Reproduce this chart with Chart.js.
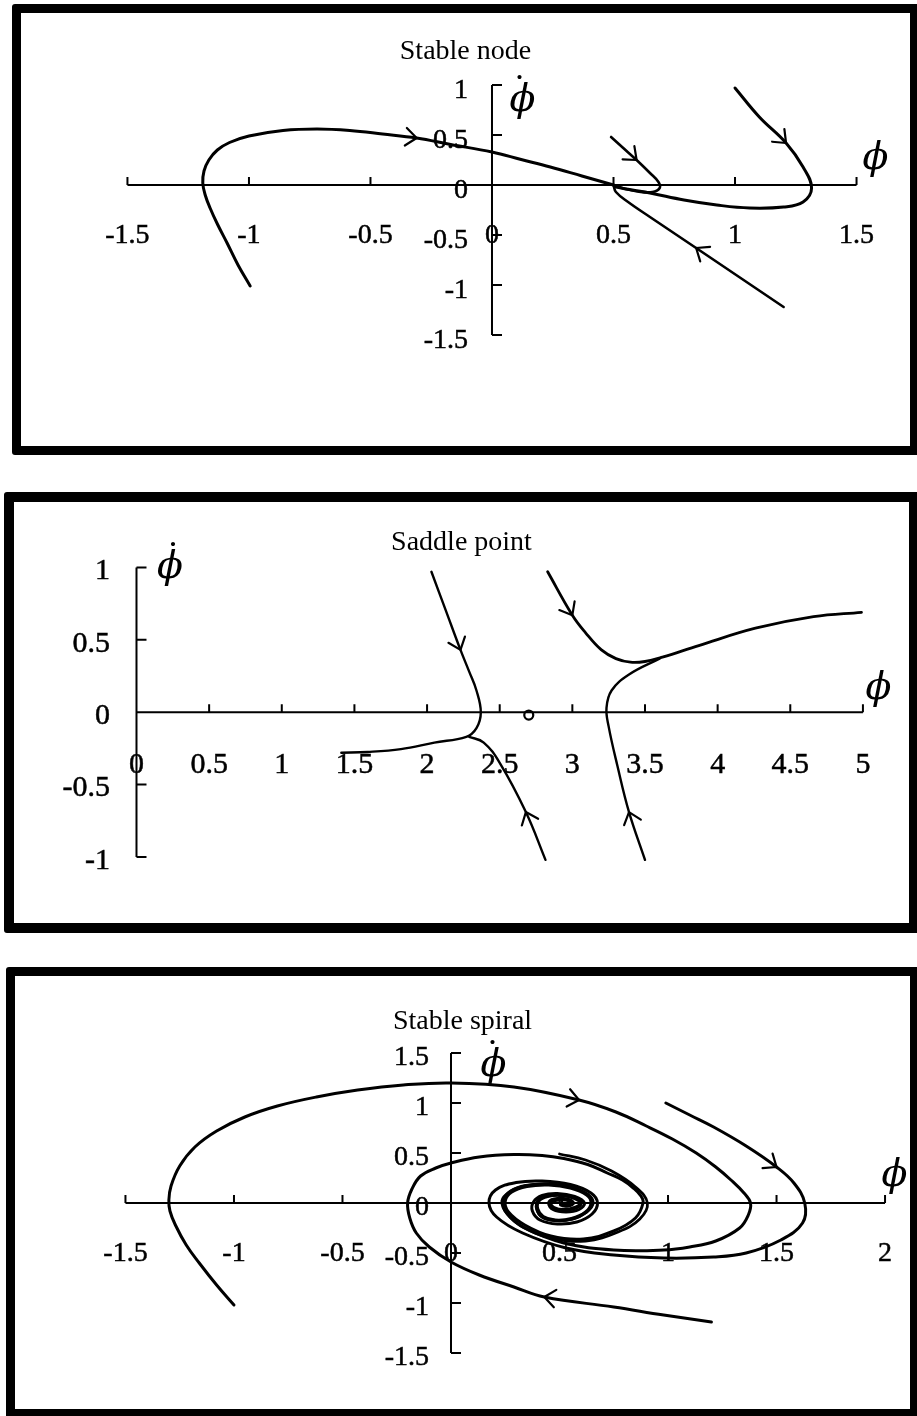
<!DOCTYPE html>
<html>
<head>
<meta charset="utf-8">
<title>Phase portraits</title>
<script src="https://cdn.jsdelivr.net/npm/chart.js@4.4.1/dist/chart.umd.min.js"></script>
<style>
  html, body { margin: 0; padding: 0; background: #fff; }
  body { position: relative; width: 917px; height: 1416px; overflow: hidden; }
  .panel { position: absolute; box-sizing: border-box; border: 9px solid #000; border-radius: 3px; background: #fff; }
  .panel canvas { position: absolute; left: 0; top: 0; }
</style>
</head>
<body>
<div class="panel" style="left:12px;top:4px;width:907px;height:451px;">
  <canvas id="node" width="889" height="433" style="width:889px;height:433px"></canvas>
</div>
<div class="panel" style="left:4px;top:492px;width:915px;height:441px;border-width:10px;">
  <canvas id="saddle" width="895" height="421" style="width:895px;height:421px"></canvas>
</div>
<div class="panel" style="left:6px;top:967px;width:913px;height:451px;">
  <canvas id="spiral" width="895" height="433" style="width:895px;height:433px"></canvas>
</div>
<script>
// ---- stable node ----
const nodeXTicks = [-1.5, -1, -0.5, 0, 0.5, 1, 1.5];
const nodeYTicks = [-1.5, -1, -0.5, 0, 0.5, 1];
const nodeFromLeft = [[-0.995,-1.01],[-1.045,-0.80],[-1.09,-0.58],[-1.13,-0.39],[-1.16,-0.23],
  [-1.18,-0.10],[-1.19,0.02],[-1.185,0.14],[-1.165,0.25],[-1.13,0.35],[-1.08,0.425],[-1.00,0.49],
  [-0.86,0.545],[-0.72,0.56],[-0.585,0.545],[-0.45,0.51],[-0.31,0.47],[-0.17,0.405],[0.00,0.33],
  [0.12,0.255],[0.24,0.18],[0.37,0.09],[0.50,0.00]];
const nodeFromRight = [[1.00,0.97],[1.10,0.68],[1.21,0.42],[1.28,0.18],[1.315,-0.03],[1.28,-0.17],
  [1.20,-0.22],[1.06,-0.23],[0.925,-0.20],[0.79,-0.15],[0.65,-0.08],[0.51,-0.02],[0.50,0.00]];
const nodeHook = [[0.49,0.48],[0.54,0.37],[0.595,0.25],[0.65,0.12],[0.685,0.03],[0.69,-0.03],
  [0.66,-0.07],[0.60,-0.065],[0.55,-0.04],[0.50,0.00]];
const nodeFromBelow = [[1.20,-1.22],[0.84,-0.63],[0.65,-0.32],[0.56,-0.17],[0.51,-0.07],[0.50,0.00]];
const nodeArrows = [
  {curve: 'fromLeft', x: -0.31, y: 0.47},
  {curve: 'fromRight', x: 1.21, y: 0.42},
  {curve: 'hook', x: 0.595, y: 0.25},
  {curve: 'fromBelow', x: 0.84, y: -0.63}
];

// ---- saddle point ----
const saddleXTicks = [0, 0.5, 1, 1.5, 2, 2.5, 3, 3.5, 4, 4.5, 5];
const saddleYTicks = [-1, -0.5, 0, 0.5, 1];
const saddleUpperLeft = [[2.03,0.97],[2.13,0.70],[2.23,0.43],[2.29,0.28],[2.34,0.15],[2.37,0.00],
  [2.34,-0.11],[2.27,-0.17],[2.05,-0.21],[1.82,-0.255],[1.59,-0.275],[1.41,-0.28]];
const saddleLowerLeft = [[2.815,-1.02],[2.68,-0.69],[2.50,-0.35],[2.39,-0.21],[2.29,-0.17]];
const saddleUpperRight = [[2.83,0.97],[3.00,0.67],[3.09,0.55],[3.20,0.43],[3.30,0.37],[3.40,0.345],
  [3.50,0.35],[3.62,0.38],[3.87,0.46],[4.26,0.58],[4.66,0.66],[4.99,0.69]];
const saddleLowerRight = [[3.50,-1.02],[3.39,-0.69],[3.31,-0.37],[3.25,-0.10],[3.235,0.03],
  [3.27,0.15],[3.39,0.26],[3.60,0.37]];
const saddlePoint = [[2.7,-0.02]];
const saddleArrows = [
  {curve: 'upperLeft', x: 2.23, y: 0.43},
  {curve: 'lowerLeft', x: 2.68, y: -0.69},
  {curve: 'upperRight', x: 3.00, y: 0.67},
  {curve: 'lowerRight', x: 3.39, y: -0.69}
];

// ---- stable spiral ----
const spiralXTicks = [-1.5, -1, -0.5, 0, 0.5, 1, 1.5, 2];
const spiralYTicks = [-1.5, -1, -0.5, 0, 0.5, 1, 1.5];
const spiralOuter = [[-1.00,-1.02],[-1.08,-0.82],[-1.16,-0.60],[-1.22,-0.42],[-1.27,-0.22],[-1.295,-0.08],
  [-1.30,0.03],[-1.29,0.17],[-1.25,0.37],[-1.18,0.56],[-1.08,0.72],[-0.95,0.86],[-0.80,0.97],[-0.62,1.06],
  [-0.43,1.13],[-0.22,1.18],[0.00,1.20],[0.29,1.16],[0.59,1.03],[0.76,0.91],[0.90,0.77],[1.02,0.64],
  [1.13,0.50],[1.22,0.36],[1.29,0.23],[1.35,0.10],[1.38,0.00],[1.37,-0.12],[1.33,-0.25],[1.22,-0.38],
  [1.10,-0.44],[0.98,-0.47],[0.75,-0.47],[0.52,-0.40],[0.34,-0.25],[0.26,-0.11],[0.235,0.02],
  [0.27,0.11],[0.34,0.17],[0.44,0.19],[0.55,0.16],[0.63,0.085],[0.655,0.00],[0.625,-0.09],
  [0.56,-0.16],[0.48,-0.175],[0.42,-0.14],[0.395,-0.06],[0.40,0.02],[0.44,0.07],[0.51,0.08],
  [0.575,0.05],[0.60,0.00],[0.575,-0.05],[0.52,-0.07],[0.47,-0.05],[0.455,0.00],[0.48,0.03],
  [0.53,0.035],[0.555,0.005],[0.535,-0.02],[0.51,-0.01]];
const spiralUpper = [[0.99,1.00],[1.10,0.88],[1.21,0.76],[1.36,0.57],[1.50,0.36],[1.58,0.20],[1.63,0.00],
  [1.62,-0.20],[1.52,-0.37],[1.36,-0.50],[1.21,-0.54],[0.98,-0.55],[0.75,-0.52],[0.53,-0.45],
  [0.33,-0.30],[0.21,-0.14],[0.175,0.00],[0.205,0.13],[0.30,0.205],[0.42,0.22],[0.55,0.185],
  [0.645,0.10],[0.675,0.00],[0.65,-0.11],[0.58,-0.19],[0.49,-0.21],[0.41,-0.17],[0.375,-0.08],
  [0.38,0.01],[0.42,0.075],[0.49,0.095],[0.57,0.065],[0.615,0.00],[0.59,-0.065],[0.53,-0.09],
  [0.47,-0.065],[0.45,0.00],[0.475,0.04],[0.535,0.04],[0.565,0.00],[0.54,-0.03],[0.505,-0.02],[0.51,0.01]];
const spiralLower = [[1.20,-1.19],[0.98,-1.12],[0.75,-1.04],[0.43,-0.94],[0.29,-0.84],[0.13,-0.72],
  [0.00,-0.59],[-0.10,-0.44],[-0.16,-0.30],[-0.19,-0.15],[-0.20,0.00],[-0.18,0.14],[-0.14,0.27],
  [-0.07,0.35],[0.00,0.40],[0.13,0.46],[0.29,0.485],[0.42,0.475],[0.52,0.445],[0.63,0.385],
  [0.72,0.30],[0.79,0.23],[0.84,0.15],[0.875,0.07],[0.885,0.00],[0.85,-0.15],[0.75,-0.28],
  [0.61,-0.36],[0.46,-0.33],[0.34,-0.22],[0.265,-0.09],[0.25,0.02],[0.28,0.11],[0.35,0.165],
  [0.45,0.18],[0.55,0.15],[0.625,0.08],[0.645,0.00],[0.62,-0.09],[0.555,-0.155],[0.48,-0.17],
  [0.425,-0.135],[0.40,-0.06],[0.405,0.02],[0.445,0.065],[0.51,0.075],[0.57,0.045],[0.595,0.00],
  [0.57,-0.045],[0.52,-0.065],[0.475,-0.045],[0.46,0.00],[0.485,0.028],[0.53,0.03],[0.55,0.005],
  [0.53,-0.018],[0.51,-0.008]];
const spiralInner = [[0.50,0.49],[0.62,0.43],[0.74,0.32],[0.85,0.16],[0.905,0.00],[0.87,-0.16],
  [0.77,-0.29],[0.62,-0.38],[0.46,-0.35],[0.33,-0.24],[0.255,-0.10],[0.24,0.02],[0.275,0.12],
  [0.345,0.175],[0.445,0.19],[0.55,0.16],[0.63,0.085],[0.65,0.00],[0.625,-0.09],[0.56,-0.16],
  [0.48,-0.175],[0.42,-0.14],[0.395,-0.06],[0.40,0.02],[0.44,0.07],[0.51,0.08],[0.575,0.05],
  [0.60,0.00],[0.575,-0.05],[0.52,-0.07],[0.47,-0.05],[0.455,0.00],[0.48,0.03],[0.53,0.035],
  [0.555,0.005],[0.535,-0.02],[0.51,-0.01]];
const spiralArrows = [
  {curve: 'outer', x: 0.59, y: 1.03},
  {curve: 'upper', x: 1.50, y: 0.36},
  {curve: 'lower', x: 0.43, y: -0.94}
];

const SERIF = '"Liberation Serif", "Times New Roman", serif';

// centre a glyph's ink box on (cx, cy)
function inkText(ctx, text, cx, cy) {
  ctx.textAlign = 'left';
  ctx.textBaseline = 'alphabetic';
  const m = ctx.measureText(text);
  const x = cx - (m.actualBoundingBoxRight - m.actualBoundingBoxLeft) / 2;
  const y = cy + (m.actualBoundingBoxAscent - m.actualBoundingBoxDescent) / 2;
  ctx.fillText(text, x, y);
}

// tick numbers with a hairline stroke so they read as heavy as the printed ones
function tickText(ctx, text, x, y) {
  ctx.fillText(text, x, y);
  ctx.strokeText(text, x, y);
}

// axes through the origin, inward ticks, phi labels and direction chevrons
const phasePlane = {
  id: 'phasePlane',
  afterDatasetsDraw(chart, args, o) {
    const ctx = chart.ctx;
    const sx = chart.scales.x, sy = chart.scales.y;
    const x0 = sx.getPixelForValue(0);
    const y0 = sy.getPixelForValue(0);
    const xp = o.xTicks.map(v => sx.getPixelForValue(v));
    const yp = o.yTicks.map(v => sy.getPixelForValue(v));
    const xEnd = Math.max(...xp);
    const yTop = Math.min(...yp);

    ctx.save();
    ctx.strokeStyle = '#000';
    ctx.fillStyle = '#000';
    ctx.lineWidth = 2;
    ctx.beginPath();
    ctx.moveTo(Math.min(...xp), y0);
    ctx.lineTo(xEnd, y0);
    ctx.moveTo(x0, Math.max(...yp));
    ctx.lineTo(x0, yTop);
    o.xTicks.forEach((v, i) => {
      if (v === 0) return;
      ctx.moveTo(xp[i], y0);
      ctx.lineTo(xp[i], y0 - 8);
    });
    o.yTicks.forEach((v, i) => {
      if (v === 0) return;
      ctx.moveTo(x0, yp[i]);
      ctx.lineTo(x0 + 10, yp[i]);
    });
    ctx.stroke();

    ctx.font = o.tickSize + 'px ' + SERIF;
    ctx.lineWidth = 0.5;
    ctx.textBaseline = 'middle';
    ctx.textAlign = 'center';
    o.xTicks.forEach((v, i) => tickText(ctx, String(v), xp[i], y0 + o.xGap));
    ctx.textAlign = 'right';
    o.yTicks.forEach((v, i) => tickText(ctx, String(v), x0 - o.yGap, yp[i] + o.yDrop));

    // phi on the horizontal axis, phi-dot on the vertical one
    ctx.font = 'italic 38px "DejaVu Serif", serif';
    inkText(ctx, '\u03D5', xEnd + o.phi[0], y0 + o.phi[1]);
    const bx = x0 + o.phiDot[0], by = yTop + o.phiDot[1];
    inkText(ctx, '\u03D5', bx, by);
    ctx.font = '36px "DejaVu Serif", serif';
    inkText(ctx, '\u02D9', bx + o.dot[0], by + o.dot[1]);

    ctx.lineWidth = 2.2;
    ctx.lineCap = 'round';
    o.arrows.forEach(a => {
      const idx = chart.data.datasets.findIndex(d => d.label === a.curve);
      const pts = chart.getDatasetMeta(idx).data;
      const px = sx.getPixelForValue(a.x), py = sy.getPixelForValue(a.y);
      let best = null;
      for (let i = 0; i < pts.length - 1; i++) {
        const p = pts[i], q = pts[i + 1];
        const dx = q.x - p.x, dy = q.y - p.y;
        const len2 = dx * dx + dy * dy || 1;
        const t = Math.max(0, Math.min(1, ((px - p.x) * dx + (py - p.y) * dy) / len2));
        const cx = p.x + t * dx, cy = p.y + t * dy;
        const d2 = (cx - px) ** 2 + (cy - py) ** 2;
        if (!best || d2 < best.d2) best = {d2, cx, cy, dx, dy};
      }
      const len = Math.hypot(best.dx, best.dy);
      const ux = best.dx / len, uy = best.dy / len;
      const s = o.arrowSize, ang = 0.68;
      ctx.beginPath();
      [-1, 1].forEach(sgn => {
        const c = Math.cos(ang), sn = Math.sin(ang) * sgn;
        ctx.moveTo(best.cx, best.cy);
        ctx.lineTo(best.cx - (ux * c - uy * sn) * s, best.cy - (ux * sn + uy * c) * s);
      });
      ctx.stroke();
    });
    ctx.restore();
  }
};

function curve(label, pts, width) {
  return {
    label: label,
    data: pts.map(p => ({x: p[0], y: p[1]})),
    showLine: true,
    borderColor: '#000',
    borderWidth: width,
    pointRadius: 0,
    pointHoverRadius: 0,
    tension: 0.4,
    fill: false,
    clip: false
  };
}

function phaseChart(id, cfg) {
  return new Chart(document.getElementById(id), {
    type: 'scatter',
    data: {datasets: cfg.datasets},
    options: {
      responsive: false,
      animation: false,
      events: [],
      layout: {padding: 0},
      elements: {line: {capBezierPoints: false, borderCapStyle: 'round', borderJoinStyle: 'round'}},
      scales: {
        x: {type: 'linear', display: false, bounds: 'data', min: cfg.xRange[0], max: cfg.xRange[1]},
        y: {type: 'linear', display: false, bounds: 'data', min: cfg.yRange[0], max: cfg.yRange[1]}
      },
      plugins: {
        legend: {display: false},
        tooltip: {enabled: false},
        title: {
          display: true,
          text: cfg.title,
          color: '#000',
          font: {family: SERIF, size: 28, weight: 'normal', lineHeight: 1.2},
          padding: {top: cfg.titleTop, bottom: 0}
        },
        phasePlane: cfg.axes
      }
    },
    plugins: [phasePlane]
  });
}

phaseChart('node', {
  title: 'Stable node',
  titleTop: 22,
  xRange: [-1.938, 1.720],
  yRange: [-2.61, 1.164],
  datasets: [
    curve('fromLeft', nodeFromLeft, 3),
    curve('fromRight', nodeFromRight, 3),
    curve('hook', nodeHook, 2.6),
    curve('fromBelow', nodeFromBelow, 2.6)
  ],
  axes: {xTicks: nodeXTicks, yTicks: nodeYTicks, tickSize: 28, xGap: 51, yGap: 24, yDrop: 6,
         phi: [19, -26.5], phiDot: [30.5, 15], dot: [-3, -23.5], arrows: nodeArrows, arrowSize: 14}
});

phaseChart('saddle', {
  title: 'Saddle point',
  titleTop: 23.7,
  xRange: [-0.797, 5.271],
  yRange: [-1.410, 1.056],
  datasets: [
    curve('upperLeft', saddleUpperLeft, 2.4),
    curve('lowerLeft', saddleLowerLeft, 2.4),
    curve('upperRight', saddleUpperRight, 2.8),
    curve('lowerRight', saddleLowerRight, 2.4),
    {
      label: 'saddle',
      data: saddlePoint.map(p => ({x: p[0], y: p[1]})),
      showLine: false,
      pointRadius: 4.5,
      pointBorderWidth: 2.2,
      pointBorderColor: '#000',
      pointBackgroundColor: '#fff',
      clip: false
    }
  ],
  axes: {xTicks: saddleXTicks, yTicks: saddleYTicks, tickSize: 30, xGap: 52.5, yGap: 26.5, yDrop: 4,
         phi: [15.5, -23.5], phiDot: [33.5, 0], dot: [3, -24], arrows: saddleArrows, arrowSize: 14}
});

phaseChart('spiral', {
  title: 'Stable spiral',
  titleTop: 28.7,
  xRange: [-2.009, 2.115],
  yRange: [-2.06, 1.647],
  datasets: [
    curve('outer', spiralOuter, 3),
    curve('upper', spiralUpper, 3),
    curve('lower', spiralLower, 3),
    curve('inner', spiralInner, 2.8)
  ],
  axes: {xTicks: spiralXTicks, yTicks: spiralYTicks, tickSize: 28, xGap: 51, yGap: 22, yDrop: 5,
         phi: [9.5, -28], phiDot: [42.5, 12], dot: [-1, -23.5], arrows: spiralArrows, arrowSize: 14}
});
</script>
</body>
</html>
